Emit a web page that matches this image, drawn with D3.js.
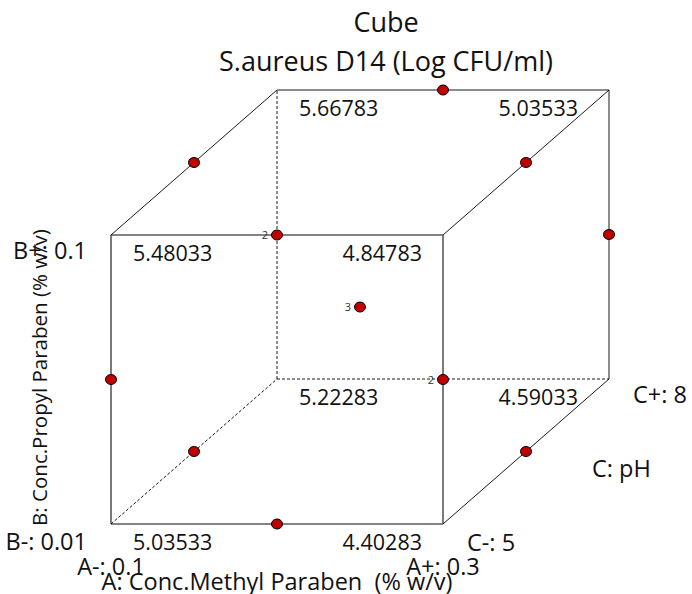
<!DOCTYPE html>
<html>
<head>
<meta charset="utf-8">
<script src="https://cdn.jsdelivr.net/npm/d3@7"></script>
<style>
  body { margin: 0; background: #fff; }
  svg text { font-family: "Open Sans", "Noto Sans", sans-serif; fill: #111; white-space: pre; }
</style>
</head>
<body>
<div class="js-cube"></div>
<script>
// factor names and levels
const factorNames = ['A: Conc.Methyl Paraben  (% w/v)', 'B: Conc.Propyl Paraben (% w/v)', 'C: pH'];
const lowLabels = ['A-: 0.1', 'B-: 0.01', 'C-: 5'];
const highLabels = ['A+: 0.3', 'B+: 0.1', 'C+: 8'];

// predicted response at the 8 cube corners (coded levels)
const cornerA = [-1, 1, -1, 1, -1, 1, -1, 1];
const cornerB = [-1, -1, 1, 1, -1, -1, 1, 1];
const cornerC = [-1, -1, -1, -1, 1, 1, 1, 1];
const cornerValues = [5.03533, 4.40283, 5.48033, 4.84783, 5.22283, 4.59033, 5.66783, 5.03533];

// design points (coded) and number of runs at each
const pointA = [0, -1, 1, 1, 0, 0, -1, 1, -1, 1, 0];
const pointB = [1, 1, 1, 0, 1, 0, 0, 0, -1, -1, -1];
const pointC = [1, 0, 0, 1, -1, 0, -1, -1, 0, 0, -1];
const pointCount = [1, 1, 1, 1, 2, 3, 1, 2, 1, 1, 1];

const width = 692, height = 594;

const x = d3.scaleLinear().domain([-1, 1]).range([111, 443]);
const y = d3.scaleLinear().domain([-1, 1]).range([524, 235]);
const depthX = d3.scaleLinear().domain([-1, 1]).range([0, 166]);
const depthY = d3.scaleLinear().domain([-1, 1]).range([0, -145]);

function px(a, c) { return x(a) + depthX(c); }
function py(b, c) { return y(b) + depthY(c); }

const svg = d3.select('.js-cube').append('svg')
  .attr('width', width).attr('height', height);

// titles
svg.append('text').attr('x', 386).attr('y', 32)
  .attr('text-anchor', 'middle').style('font-size', '27px').text('Cube');
svg.append('text').attr('x', 386).attr('y', 71)
  .attr('text-anchor', 'middle').style('font-size', '27px').text('S.aureus D14 (Log CFU/ml)');

// cube edges: [a1,b1,c1, a2,b2,c2, style]
const edges = [
  [-1, -1, -1, 1, -1, -1, 'front'],
  [-1, 1, -1, 1, 1, -1, 'front'],
  [-1, -1, -1, -1, 1, -1, 'front'],
  [1, -1, -1, 1, 1, -1, 'front'],
  [-1, 1, 1, 1, 1, 1, 'solid'],
  [1, -1, 1, 1, 1, 1, 'solid'],
  [-1, -1, 1, -1, 1, 1, 'dash'],
  [-1, -1, 1, 1, -1, 1, 'dash'],
  [-1, 1, -1, -1, 1, 1, 'solid'],
  [1, 1, -1, 1, 1, 1, 'solid'],
  [1, -1, -1, 1, -1, 1, 'solid'],
  [-1, -1, -1, -1, -1, 1, 'dash']
];

svg.append('g').selectAll('line').data(edges).enter().append('line')
  .attr('x1', d => px(d[0], d[2])).attr('y1', d => py(d[1], d[2]))
  .attr('x2', d => px(d[3], d[5])).attr('y2', d => py(d[4], d[5]))
  .attr('stroke', d => d[6] === 'front' ? '#5a5a5a' : '#000')
  .attr('stroke-width', d => d[6] === 'front' ? 1.6 : 0.9)
  .attr('stroke-dasharray', d => d[6] === 'dash' ? '3,2' : null);

// corner values
const corners = cornerValues.map((v, i) => ({ a: cornerA[i], b: cornerB[i], c: cornerC[i], v: v }));
const fmt = d3.format('.5f');

svg.append('g').selectAll('text').data(corners).enter().append('text')
  .attr('x', d => d.a < 0 ? px(d.a, d.c) + 22 : px(d.a, d.c) - (d.c > 0 ? 31 : 21))
  .attr('y', d => py(d.b, d.c) + 26)
  .attr('text-anchor', d => d.a < 0 ? 'start' : 'end')
  .style('font-size', '21.5px')
  .text(d => fmt(d.v));

// design points
const points = pointA.map((a, i) => ({ a: a, b: pointB[i], c: pointC[i], n: pointCount[i] }));

svg.append('g').selectAll('text').data(points.filter(d => d.n > 1)).enter().append('text')
  .attr('x', d => px(d.a, d.c) - 9).attr('y', d => py(d.b, d.c) + 4)
  .attr('text-anchor', 'end')
  .style('font-size', '11px').style('fill', '#333')
  .text(d => d.n);

svg.append('g').selectAll('ellipse').data(points).enter().append('ellipse')
  .attr('cx', d => px(d.a, d.c)).attr('cy', d => py(d.b, d.c))
  .attr('rx', 5.5).attr('ry', 5)
  .attr('fill', '#c00000').attr('stroke', '#000').attr('stroke-width', 1);

// factor level labels
const lab = svg.append('g').style('font-size', '23.5px');

// A
lab.append('text').attr('x', x(-1)).attr('y', 575).attr('text-anchor', 'middle').text(lowLabels[0]);
lab.append('text').attr('x', x(1)).attr('y', 575).attr('text-anchor', 'middle').text(highLabels[0]);
lab.append('text').attr('x', x(0)).attr('y', 590).attr('text-anchor', 'middle').text(factorNames[0]);

// B
lab.append('text').attr('x', x(-1) - 24).attr('y', y(1) + 24).attr('text-anchor', 'end').text(highLabels[1]);
lab.append('text').attr('x', x(-1) - 24).attr('y', y(-1) + 26).attr('text-anchor', 'end').text(lowLabels[1]);
lab.append('text')
  .attr('transform', 'translate(47,' + (y(0) - 2) + ') rotate(-90)')
  .attr('text-anchor', 'middle').style('font-size', '20.5px').text(factorNames[1]);

// C
lab.append('text').attr('x', px(1, -1) + 24).attr('y', py(-1, -1) + 27).text(lowLabels[2]);
lab.append('text').attr('x', px(1, 1) + 24).attr('y', py(-1, 1) + 24).text(highLabels[2]);
lab.append('text').attr('x', px(1, 0) + 66).attr('y', py(-1, 0) + 25).text(factorNames[2]);
</script>
</body>
</html>
